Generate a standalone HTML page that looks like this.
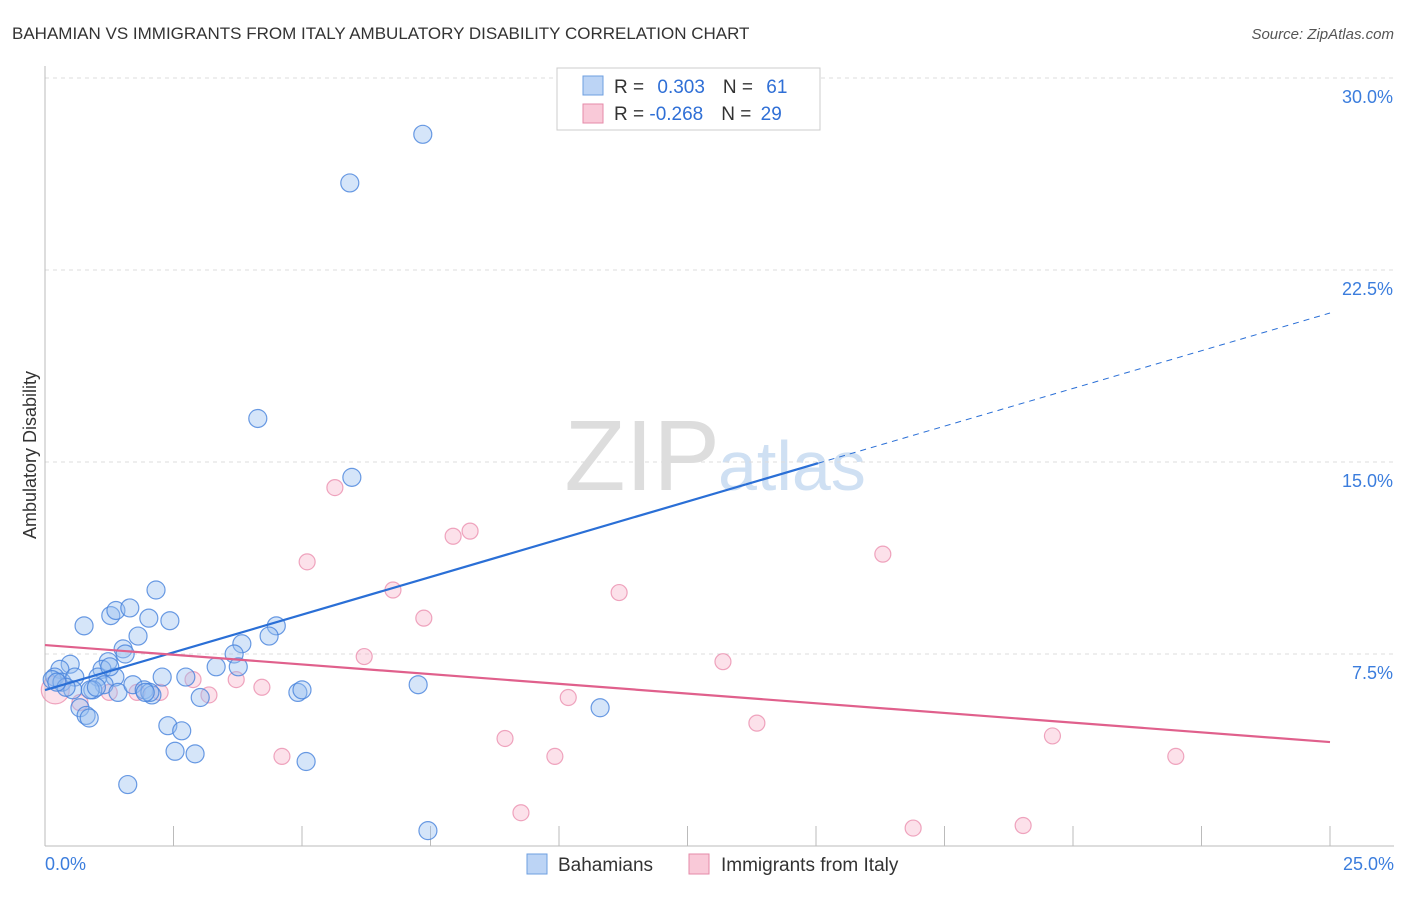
<!DOCTYPE html>
<html><head><meta charset="utf-8"><style>
body{margin:0;background:#fff;font-family:"Liberation Sans",sans-serif;}
svg text{font-family:"Liberation Sans",sans-serif;}
</style></head><body>
<svg id="c" width="1406" height="892">
<text x="12" y="39" font-size="17" fill="#333">BAHAMIAN VS IMMIGRANTS FROM ITALY AMBULATORY DISABILITY CORRELATION CHART</text>
<text x="1394" y="39" font-size="15" fill="#555" text-anchor="end" font-style="italic">Source: ZipAtlas.com</text>
<text x="36" y="455" font-size="18" fill="#333" text-anchor="middle" transform="rotate(-90 36 455)">Ambulatory Disability</text>
<text x="720" y="490" font-size="100" fill="#ddd" text-anchor="end" font-family="Liberation Serif">ZIP</text>
<text x="718" y="490" font-size="70" fill="#cfe0f3">atlas</text>
<g id="grid"></g><g id="pts"></g><g id="lines"></g>
<g>
<rect x="557" y="68" width="263" height="62" fill="#fff" stroke="#ccc"/>
<rect x="583" y="76" width="20" height="19" fill="#bcd4f5" stroke="#6e9fe0"/>
<rect x="583" y="104" width="20" height="19" fill="#f9c9d8" stroke="#e58aa8"/>
<text x="614" y="93" font-size="19" fill="#333">R = <tspan fill="#2f6fd6" dx="8">0.303</tspan><tspan dx="18" fill="#333">N = </tspan><tspan fill="#2f6fd6" dx="8">61</tspan></text>
<text x="614" y="120" font-size="19" fill="#333">R = <tspan fill="#2f6fd6" dx="0">-0.268</tspan><tspan dx="18" fill="#333">N = </tspan><tspan fill="#2f6fd6" dx="4">29</tspan></text>
</g>
<g>
<rect x="527" y="854" width="20" height="20" fill="#bcd4f5" stroke="#6e9fe0"/>
<text x="558" y="871" font-size="19" fill="#333">Bahamians</text>
<rect x="689" y="854" width="20" height="20" fill="#f9c9d8" stroke="#e58aa8"/>
<text x="721" y="871" font-size="19" fill="#333">Immigrants from Italy</text>
</g>
</svg>
<script>
const yTicks=[7.5,15,22.5,30];
const yTickLabels=["7.5%","15.0%","22.5%","30.0%"];
const xTickLabels=["0.0%","25.0%"];
const blueX=[7.35,5.93,4.14,5.97,2.16,0.76,1.28,1.38,1.65,2.02,2.43,1.81,1.52,1.56,4.5,4.36,3.83,3.68,3.76,3.33,2.74,2.28,1.23,1.11,0.49,0.29,0.19,0.14,0.33,0.58,0.54,1.03,1.36,1.15,0.93,1.42,1.71,1.93,2.08,3.02,4.92,5.0,7.26,10.8,0.68,0.8,0.86,2.39,2.66,2.53,2.92,5.08,1.61,7.45,0.41,0.23,0.88,1.0,2.04,1.95,1.26];
const blueY=[27.8,25.9,16.7,14.4,10.0,8.6,9.0,9.2,9.3,8.9,8.8,8.2,7.7,7.5,8.6,8.2,7.9,7.5,7.0,7.0,6.6,6.6,7.2,6.9,7.1,6.9,6.6,6.5,6.4,6.6,6.1,6.6,6.6,6.3,6.1,6.0,6.3,6.1,5.9,5.8,6.0,6.1,6.3,5.4,5.4,5.1,5.0,4.7,4.5,3.7,3.6,3.3,2.4,0.6,6.2,6.4,6.1,6.2,6.0,6.0,7.0];
const pinkX=[5.64,5.1,8.27,7.94,6.77,7.37,11.17,16.3,6.21,13.19,3.72,4.22,2.88,3.19,2.24,1.79,1.25,0.68,0.2,10.18,13.85,8.95,9.92,4.61,19.6,22.0,9.26,16.89,19.03];
const pinkY=[14.0,11.1,12.3,12.1,10.0,8.9,9.9,11.4,7.4,7.2,6.5,6.2,6.5,5.9,6.0,6.0,6.0,5.6,6.1,5.8,4.8,4.2,3.5,3.5,4.3,3.5,1.3,0.7,0.8];
const blueTrend=[6.09,20.82], blueSolidEnd=15.04;
const pinkTrend=[7.85,4.06];
const NS="http://www.w3.org/2000/svg";
const X0=45,X1=1330,Y0=846,Y1=78;
const sx=v=>X0+v/25*(X1-X0), sy=v=>Y0-v/30*(Y0-Y1);
function mk(t,a,p){const e=document.createElementNS(NS,t);for(const k in a)e.setAttribute(k,a[k]);p.appendChild(e);return e;}
const g=document.getElementById('grid');
yTicks.forEach((t,i)=>{
 const l=mk('line',{x1:X0,x2:1394,y1:sy(t),y2:sy(t),stroke:'#ddd','stroke-dasharray':'4,4'},g);
 
 
 const tx=mk('text',{x:1393,y:sy(t)+25,'font-size':18,fill:'#3b7ddd','text-anchor':'end'},g);
 tx.textContent=yTickLabels[i];
 
 
});
const ax=mk('line',{x1:X0,x2:X0,y1:66,y2:Y0,stroke:'#bbb'},g);


const bx=mk('line',{x1:X0,x2:1394,y1:Y0,y2:Y0,stroke:'#bbb'},g);


for(let i=1;i<=10;i++){const x=sx(i*2.5);const t=mk('line',{x1:x,x2:x,y1:826,y2:Y0,stroke:'#bbb'},g);
 
 }
[[0,'start',45],[25,'end',1394]].forEach((d,i)=>{const t=mk('text',{x:d[2],y:870,'font-size':18,fill:'#3b7ddd','text-anchor':d[1]},g);t.textContent=xTickLabels[i];
 
 });
const p=document.getElementById('pts');
pinkX.forEach((x,i)=>{const c=mk('circle',{cx:sx(x),cy:sy(pinkY[i]),r:i==18?14:8,fill:'rgba(246,170,195,0.35)',stroke:'rgba(232,130,165,0.7)','stroke-width':1.2},p);
 
 });
blueX.forEach((x,i)=>{const c=mk('circle',{cx:sx(x),cy:sy(blueY[i]),r:9,fill:'rgba(150,190,240,0.4)',stroke:'rgba(70,130,220,0.8)','stroke-width':1.2},p);
 
 });
const L=document.getElementById('lines');
const by=x=>blueTrend[0]+(blueTrend[1]-blueTrend[0])*x/25;
let a=mk('line',{x1:sx(0),y1:sy(by(0)),x2:sx(blueSolidEnd),y2:sy(by(blueSolidEnd)),stroke:'#2a6fd6','stroke-width':2.2},L);


a=mk('line',{x1:sx(blueSolidEnd),y1:sy(by(blueSolidEnd)),x2:sx(25),y2:sy(by(25)),stroke:'#2a6fd6','stroke-width':1,'stroke-dasharray':'6,5'},L);


a=mk('line',{x1:sx(0),y1:sy(pinkTrend[0]),x2:sx(25),y2:sy(pinkTrend[1]),stroke:'#e0608c','stroke-width':2.2},L);


</script>
</body></html>
